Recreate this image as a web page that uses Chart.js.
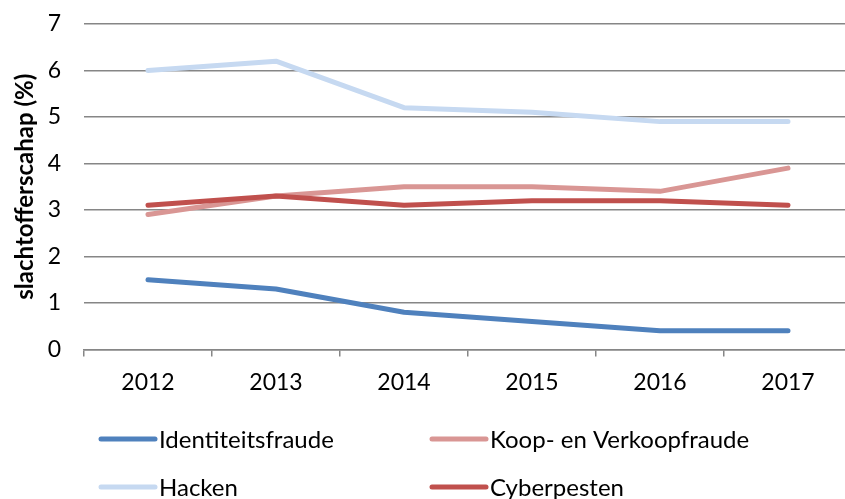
<!DOCTYPE html>
<html>
<head>
<meta charset="utf-8">
<script src="https://cdn.jsdelivr.net/npm/chart.js@4"></script>
<style>
  html, body { margin: 0; padding: 0; overflow: hidden; background: #fff; }
  canvas { display: block; }
</style>
</head>
<body>
<canvas id="lineChart" width="852" height="499"></canvas>
<script>
var years = ['2012', '2013', '2014', '2015', '2016', '2017'];
var identiteitsfraude = [1.5, 1.3, 0.8, 0.6, 0.4, 0.4];
var koopVerkoopfraude = [2.9, 3.3, 3.5, 3.5, 3.4, 3.9];
var hacken = [6.0, 6.2, 5.2, 5.1, 4.9, 4.9];
var cyberpesten = [3.1, 3.3, 3.1, 3.2, 3.2, 3.1];
var yTicks = [0, 1, 2, 3, 4, 5, 6, 7];

var FONT = 'Lato, "Open Sans", sans-serif';

// legend in a 2x2 grid, like the Excel original
var gridLegend = {
    id: 'gridLegend',
    afterDraw: function (chart) {
        var c = chart.ctx;
        var cols = [101, 432];
        var rows = [439, 487];
        c.save();
        chart.data.datasets.forEach(function (ds, i) {
            var x = cols[i % 2];
            var y = rows[Math.floor(i / 2)];
            c.strokeStyle = ds.borderColor;
            c.lineWidth = 5;
            c.lineCap = 'round';
            c.beginPath();
            c.moveTo(x, y);
            c.lineTo(x + 54, y);
            c.stroke();
            c.fillStyle = '#000';
            c.font = '24px ' + FONT;
            c.textBaseline = 'middle';
            c.fillText(ds.label, x + 58, y + 1);
        });
        c.restore();
    }
};

var ctx = document.getElementById('lineChart').getContext('2d');
var myChart = new Chart(ctx, {
    type: 'line',
    data: {
        labels: years,
        datasets: [
            {
                label: 'Identiteitsfraude',
                data: identiteitsfraude,
                borderColor: '#4F81BD',
                order: 4
            },
            {
                label: 'Koop- en Verkoopfraude',
                data: koopVerkoopfraude,
                borderColor: '#D99694',
                order: 3
            },
            {
                label: 'Hacken',
                data: hacken,
                borderColor: '#C6D9F1',
                order: 2
            },
            {
                label: 'Cyberpesten',
                data: cyberpesten,
                borderColor: '#C0504D',
                order: 1
            }
        ]
    },
    options: {
        responsive: false,
        animation: false,
        layout: { padding: { top: 24, bottom: 91, left: 0, right: 0 } },
        elements: {
            line: { borderWidth: 5, borderCapStyle: 'round', borderJoinStyle: 'round', tension: 0 },
            point: { radius: 0, hoverRadius: 0 }
        },
        plugins: {
            legend: { display: false },
            tooltip: { enabled: false }
        },
        scales: {
            x: {
                offset: true,
                grid: {
                    offset: true,
                    drawOnChartArea: false,
                    drawTicks: true,
                    tickLength: 7,
                    color: '#868686',
                    lineWidth: 1.5
                },
                border: { display: true, color: '#868686', width: 1.5 },
                ticks: {
                    color: '#000',
                    padding: 12,
                    font: { family: FONT, size: 23 },
                    maxRotation: 0
                }
            },
            y: {
                min: 0,
                max: 7,
                afterFit: function (scale) {
                    scale.width = 84;
                    scale.paddingTop = 0;
                    scale.paddingBottom = 0;
                },
                afterBuildTicks: function (scale) {
                    scale.ticks = yTicks.map(function (v) { return { value: v }; });
                },
                grid: {
                    drawTicks: false,
                    color: '#868686',
                    lineWidth: 1.5
                },
                border: { display: false },
                ticks: {
                    color: '#000',
                    padding: 23,
                    font: { family: FONT, size: 23 }
                },
                title: {
                    display: true,
                    text: 'slachtofferscahap (%)',
                    color: '#000',
                    padding: { top: 11, bottom: 0 },
                    font: { family: FONT, size: 24, weight: 'bold' }
                }
            }
        }
    },
    plugins: [gridLegend]
});
</script>
</body>
</html>
